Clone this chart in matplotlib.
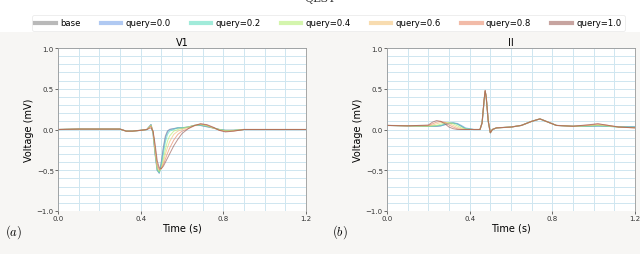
import numpy as np
import matplotlib
matplotlib.use("Agg")
import matplotlib.pyplot as plt
from matplotlib.patches import Rectangle

# data
labels = ['base', 'query=0.0', 'query=0.2', 'query=0.4', 'query=0.6', 'query=0.8', 'query=1.0']
colors = ['#808080', '#6f9ee8', '#55dcbc', '#b2ee6a', '#f3c070', '#e88462', '#9a5a52']

t_v1 = [0, 0.1, 0.2, 0.3, 0.33, 0.36, 0.4, 0.43, 0.45, 0.46, 0.47, 0.48, 0.49, 0.50, 0.51, 0.52,
        0.53, 0.54, 0.56, 0.58, 0.6, 0.63, 0.66, 0.69, 0.72, 0.75, 0.78, 0.81, 0.85, 0.9, 1.0, 1.1, 1.2]
v1_base = [0, 0.005, 0.005, 0.005, -0.02, -0.02, -0.01, 0, 0.06, -0.05, -0.30, -0.50, -0.53, -0.40, -0.22, -0.08,
           -0.02, 0, 0.01, 0.02, 0.02, 0.03, 0.05, 0.05, 0.035, 0.02, 0, -0.01, -0.01, 0, 0, 0, 0]
v1_q00 = [0, 0.005, 0.005, 0.005, -0.02, -0.02, -0.01, 0, 0.06, -0.04, -0.30, -0.50, -0.54, -0.42, -0.24, -0.10,
          -0.03, 0, 0.01, 0.02, 0.02, 0.03, 0.05, 0.05, 0.035, 0.02, 0, -0.01, -0.01, 0, 0, 0, 0]
v1_q02 = [0, 0.005, 0.005, 0.005, -0.02, -0.02, -0.01, 0, 0.055, -0.04, -0.29, -0.49, -0.53, -0.44, -0.30, -0.15,
          -0.06, -0.02, 0, 0.02, 0.02, 0.03, 0.05, 0.055, 0.04, 0.02, 0, -0.01, -0.01, 0, 0, 0, 0]
v1_q04 = [0, 0.005, 0.005, 0.005, -0.02, -0.02, -0.01, 0, 0.05, -0.03, -0.28, -0.48, -0.52, -0.47, -0.36, -0.24,
          -0.14, -0.08, -0.02, 0, 0.015, 0.03, 0.05, 0.06, 0.045, 0.02, 0, -0.015, -0.01, 0, 0, 0, 0]
v1_q06 = [0, 0.005, 0.005, 0.005, -0.02, -0.02, -0.01, 0, 0.045, -0.03, -0.26, -0.46, -0.50, -0.48, -0.40, -0.30,
          -0.22, -0.15, -0.06, -0.02, 0, 0.025, 0.05, 0.065, 0.05, 0.02, -0.005, -0.02, -0.015, 0, 0, 0, 0]
v1_q08 = [0, 0.005, 0.005, 0.005, -0.02, -0.02, -0.01, 0, 0.04, -0.02, -0.22, -0.42, -0.49, -0.48, -0.43, -0.36,
          -0.29, -0.23, -0.13, -0.06, -0.02, 0.01, 0.045, 0.07, 0.055, 0.025, -0.01, -0.025, -0.02, 0, 0, 0, 0]
v1_q10 = [0, 0.005, 0.005, 0.005, -0.02, -0.02, -0.01, 0, 0.02, -0.02, -0.18, -0.38, -0.47, -0.48, -0.45, -0.40,
          -0.35, -0.30, -0.20, -0.12, -0.05, 0.01, 0.05, 0.07, 0.06, 0.03, -0.01, -0.03, -0.02, 0, 0, 0, 0]

t_ii = [0, 0.1, 0.2, 0.22, 0.24, 0.26, 0.28, 0.30, 0.32, 0.34, 0.36, 0.38, 0.42, 0.45, 0.46, 0.47, 0.475,
        0.48, 0.49, 0.50, 0.51, 0.53, 0.6, 0.65, 0.7, 0.74, 0.78, 0.82, 0.9, 0.98, 1.02, 1.06, 1.12, 1.2]
ii_base = [0.05, 0.045, 0.04, 0.04, 0.04, 0.045, 0.06, 0.075, 0.08, 0.07, 0.04, 0.01, 0, 0, 0.08, 0.35, 0.47,
           0.40, 0.10, -0.04, 0, 0.02, 0.03, 0.05, 0.10, 0.13, 0.09, 0.05, 0.04, 0.04, 0.045, 0.04, 0.035, 0.03]
ii_q00 = [0.05, 0.045, 0.04, 0.04, 0.04, 0.045, 0.06, 0.075, 0.08, 0.075, 0.05, 0.02, 0, 0, 0.08, 0.35, 0.46,
          0.40, 0.10, -0.04, 0, 0.02, 0.03, 0.05, 0.10, 0.13, 0.09, 0.05, 0.04, 0.04, 0.04, 0.04, 0.035, 0.035]
ii_q02 = [0.05, 0.045, 0.04, 0.04, 0.045, 0.05, 0.065, 0.08, 0.08, 0.065, 0.04, 0.01, 0, 0, 0.08, 0.36, 0.47,
          0.40, 0.10, -0.04, 0, 0.02, 0.03, 0.05, 0.10, 0.13, 0.09, 0.05, 0.04, 0.04, 0.045, 0.04, 0.03, 0.03]
ii_q04 = [0.05, 0.045, 0.04, 0.045, 0.05, 0.065, 0.08, 0.085, 0.07, 0.045, 0.02, 0.005, 0, 0, 0.08, 0.36, 0.47,
          0.40, 0.10, -0.04, 0, 0.02, 0.03, 0.05, 0.10, 0.13, 0.09, 0.05, 0.04, 0.045, 0.05, 0.045, 0.03, 0.025]
ii_q06 = [0.05, 0.045, 0.045, 0.055, 0.07, 0.085, 0.09, 0.075, 0.05, 0.025, 0.01, 0, 0, 0, 0.08, 0.36, 0.47,
          0.40, 0.10, -0.04, 0, 0.02, 0.03, 0.05, 0.10, 0.13, 0.09, 0.05, 0.04, 0.05, 0.06, 0.05, 0.03, 0.02]
ii_q08 = [0.05, 0.045, 0.05, 0.07, 0.09, 0.10, 0.085, 0.055, 0.03, 0.01, 0, 0, 0, 0, 0.08, 0.37, 0.48,
          0.40, 0.10, -0.04, 0, 0.02, 0.03, 0.05, 0.10, 0.13, 0.09, 0.05, 0.04, 0.055, 0.07, 0.055, 0.03, 0.02]
ii_q10 = [0.05, 0.045, 0.055, 0.09, 0.11, 0.10, 0.07, 0.03, 0.01, 0, 0, 0, 0, 0, 0.08, 0.37, 0.48,
          0.40, 0.10, -0.04, 0, 0.02, 0.03, 0.05, 0.10, 0.13, 0.09, 0.05, 0.04, 0.06, 0.07, 0.055, 0.03, 0.02]

leads = [('V1', t_v1, [v1_base, v1_q00, v1_q02, v1_q04, v1_q06, v1_q08, v1_q10]),
         ('II', t_ii, [ii_base, ii_q00, ii_q02, ii_q04, ii_q06, ii_q08, ii_q10])]

plt.rcParams['mathtext.fontset'] = 'cm'
fig = plt.figure(figsize=(6.4, 2.55), dpi=100, facecolor='#f7f6f4')
# white band behind the legend
fig.patches.append(Rectangle((0, 1 - 33 / 255), 1, 33 / 255, transform=fig.transFigure,
                             facecolor='white', edgecolor='none', zorder=0))
fig.text(0.5, 1.005, 'QLST', ha='center', va='center', fontsize=8, family='DejaVu Serif', color='#333333')

boxes = [[58 / 640, 43 / 255, 248 / 640, 163 / 255], [387 / 640, 43 / 255, 248 / 640, 163 / 255]]
handles = []
for k, (name, t, curves) in enumerate(leads):
    ax = fig.add_axes(boxes[k])
    ax.set_facecolor('white')
    for v, c, lab in zip(curves, colors, labels):
        lw = 0.9 if lab == 'base' else 0.7
        ln, = ax.plot(t, v, color=c, lw=lw, alpha=0.65, label=lab)
        if k == 0:
            handles.append(ln)
    ax.set_xlim(0, 1.2)
    ax.set_ylim(-1.0, 1.0)
    ax.set_xticks(np.arange(0, 1.21, 0.1), minor=True)
    ax.set_yticks(np.arange(-1.0, 1.01, 0.1), minor=True)
    ax.set_xticks([0.0, 0.4, 0.8, 1.2])
    ax.set_yticks([-1.0, -0.5, 0.0, 0.5, 1.0])
    ax.grid(True, which='both', color='#cfe6f0', lw=0.7)
    ax.set_axisbelow(True)
    ax.tick_params(labelsize=5, length=2, width=0.5, pad=1, colors='#333333')
    ax.tick_params(which='minor', length=0)
    for s in ['left', 'top', 'right']:
        ax.spines[s].set_color('#999999')
        ax.spines[s].set_linewidth(0.6)
    ax.spines['bottom'].set_visible(False)
    ax.set_title(name, fontsize=7, pad=2)
    ax.set_xlabel('Time (s)', fontsize=7, labelpad=1)
    ax.set_ylabel('Voltage (mV)', fontsize=7, labelpad=2)

fig.text(14 / 640, 1 - 232 / 255, r'$(a)$', fontsize=9, ha='center', va='center')
fig.text(340 / 640, 1 - 232 / 255, r'$(b)$', fontsize=9, ha='center', va='center')

leg = fig.legend(handles=handles, loc='center', bbox_to_anchor=(0.513, 1 - 24 / 255), ncol=7,
                 fontsize=6.1, frameon=True, handlelength=2.4, columnspacing=2.4, handletextpad=0.5,
                 borderpad=0.4)
leg.get_frame().set_edgecolor('#e6e6e6')
leg.get_frame().set_linewidth(0.6)
for h in leg.legend_handles:
    h.set_linewidth(3)
    h.set_alpha(0.55)

fig.savefig('out.png', dpi=100, facecolor=fig.get_facecolor())
